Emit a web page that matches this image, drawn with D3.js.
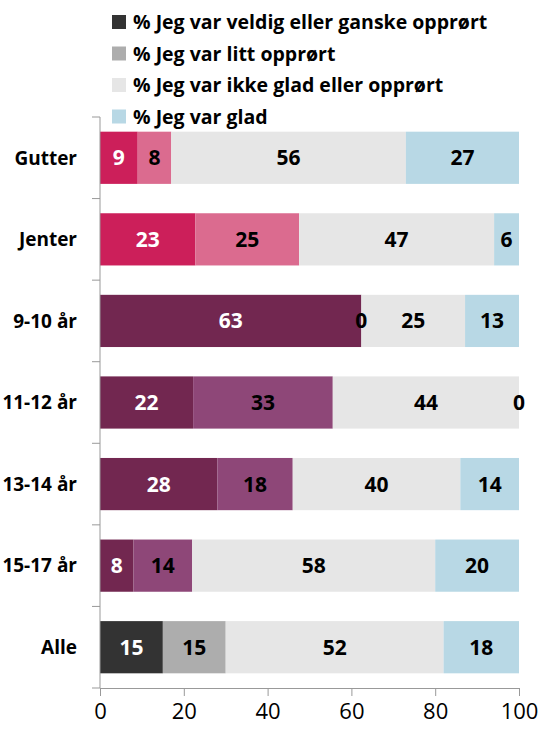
<!DOCTYPE html>
<html>
<head>
<meta charset="utf-8">
<script src="https://cdn.jsdelivr.net/npm/d3@7"></script>
<style>
  body { margin: 0; background: #fff; }
  text { font-family: "Open Sans", sans-serif; }
</style>
</head>
<body>
<script>
// categories (top to bottom)
var categories = ["Gutter", "Jenter", "9-10 år", "11-12 år", "13-14 år", "15-17 år", "Alle"];
var seriesNames = ["% Jeg var veldig eller ganske opprørt", "% Jeg var litt opprørt",
                   "% Jeg var ikke glad eller opprørt", "% Jeg var glad"];
var veldigOpprort = [9, 23, 63, 22, 28, 8, 15];
var littOpprort   = [8, 25, 0, 33, 18, 14, 15];
var ikkeGlad      = [56, 47, 25, 44, 40, 58, 52];
var glad          = [27, 6, 13, 0, 14, 20, 18];
var xTicks = [0, 20, 40, 60, 80, 100];

// colour groups per row: gender rows, age rows, total row
var rowGroup = ["kjonn", "kjonn", "alder", "alder", "alder", "alder", "alle"];
var palette = {
  kjonn: ["#cc1f5a", "#db6b8f", "#e6e6e6", "#b8d8e5"],
  alder: ["#722750", "#8e4778", "#e6e6e6", "#b8d8e5"],
  alle:  ["#333333", "#adadad", "#e6e6e6", "#b8d8e5"]
};

var width = 541, height = 731;
var svg = d3.select("body").append("svg")
    .attr("width", width)
    .attr("height", height);

var table = categories.map(function(c, i) {
  return {cat: c, i: i, s0: veldigOpprort[i], s1: littOpprort[i], s2: ikkeGlad[i], s3: glad[i]};
});
var keys = ["s0", "s1", "s2", "s3"];
var stacked = d3.stack().keys(keys).offset(d3.stackOffsetExpand)(table);

var x = d3.scaleLinear().domain([0, 1]).range([100, 519]);
var y = d3.scaleBand().domain(categories).range([117, 688]).paddingInner(0.36).paddingOuter(0.18);

// bars
var barG = svg.append("g");
stacked.forEach(function(layer, k) {
  barG.append("g").selectAll("rect")
    .data(layer)
    .enter().append("rect")
      .attr("x", function(d) { return x(d[0]); })
      .attr("y", function(d) { return y(d.data.cat); })
      .attr("width", function(d) { return x(d[1]) - x(d[0]); })
      .attr("height", y.bandwidth())
      .attr("fill", function(d) { return palette[rowGroup[d.data.i]][k]; });
});

// value labels on top of all bars
var labG = svg.append("g");
stacked.forEach(function(layer, k) {
  labG.append("g").selectAll("text")
    .data(layer)
    .enter().append("text")
      .attr("x", function(d) { return (x(d[0]) + x(d[1])) / 2; })
      .attr("y", function(d) { return y(d.data.cat) + y.bandwidth() / 2; })
      .attr("dy", "0.36em")
      .attr("text-anchor", "middle")
      .style("font-size", "21px")
      .style("font-weight", "bold")
      .style("fill", k === 0 ? "#fff" : "#000")
      .text(function(d) { return d.data[keys[k]]; });
});

// y axis
var yAxisG = svg.append("g").attr("transform", "translate(100,0)");
yAxisG.append("line")
    .attr("x1", 0).attr("x2", 0)
    .attr("y1", 117).attr("y2", 688)
    .attr("stroke", "#999");
var bounds = categories.map(function(c) { return y(c) - y.step() * y.paddingInner() / 2; });
bounds.push(688);
yAxisG.selectAll(".ytick")
  .data(bounds)
  .enter().append("line")
    .attr("x1", -8).attr("x2", 0)
    .attr("y1", function(d) { return d; })
    .attr("y2", function(d) { return d; })
    .attr("stroke", "#999");

svg.append("g").selectAll("text")
  .data(categories)
  .enter().append("text")
    .attr("x", 77)
    .attr("y", function(d) { return y(d) + y.bandwidth() / 2; })
    .attr("dy", "0.36em")
    .attr("text-anchor", "end")
    .style("font-size", "19px")
    .style("font-weight", "bold")
    .text(function(d) { return d; });

// x axis
var xAxis = d3.axisBottom(x)
    .tickValues(xTicks.map(function(t) { return t / 100; }))
    .tickFormat(function(d) { return Math.round(d * 100); })
    .tickSize(8)
    .tickSizeOuter(0);
var xg = svg.append("g")
    .attr("transform", "translate(0,688)")
    .call(xAxis);
xg.select(".domain").attr("stroke", "#999");
xg.selectAll(".tick line").attr("stroke", "#999");
xg.selectAll(".tick text")
    .attr("y", 15)
    .style("font-size", "22px")
    .style("font-family", "\"Open Sans\", sans-serif")
    .attr("fill", "#000");

// legend
var legend = svg.selectAll(".legend")
    .data(seriesNames)
  .enter().append("g")
    .attr("class", "legend")
    .attr("transform", function(d, i) { return "translate(112," + (15 + i * 31.5) + ")"; });

legend.append("rect")
    .attr("width", 14)
    .attr("height", 14)
    .attr("fill", function(d, i) { return palette.alle[i]; });

legend.append("text")
    .attr("x", 21)
    .attr("y", 7)
    .attr("dy", "0.36em")
    .style("font-size", "19.5px")
    .style("font-weight", "bold")
    .text(function(d) { return d; });
</script>
</body>
</html>
